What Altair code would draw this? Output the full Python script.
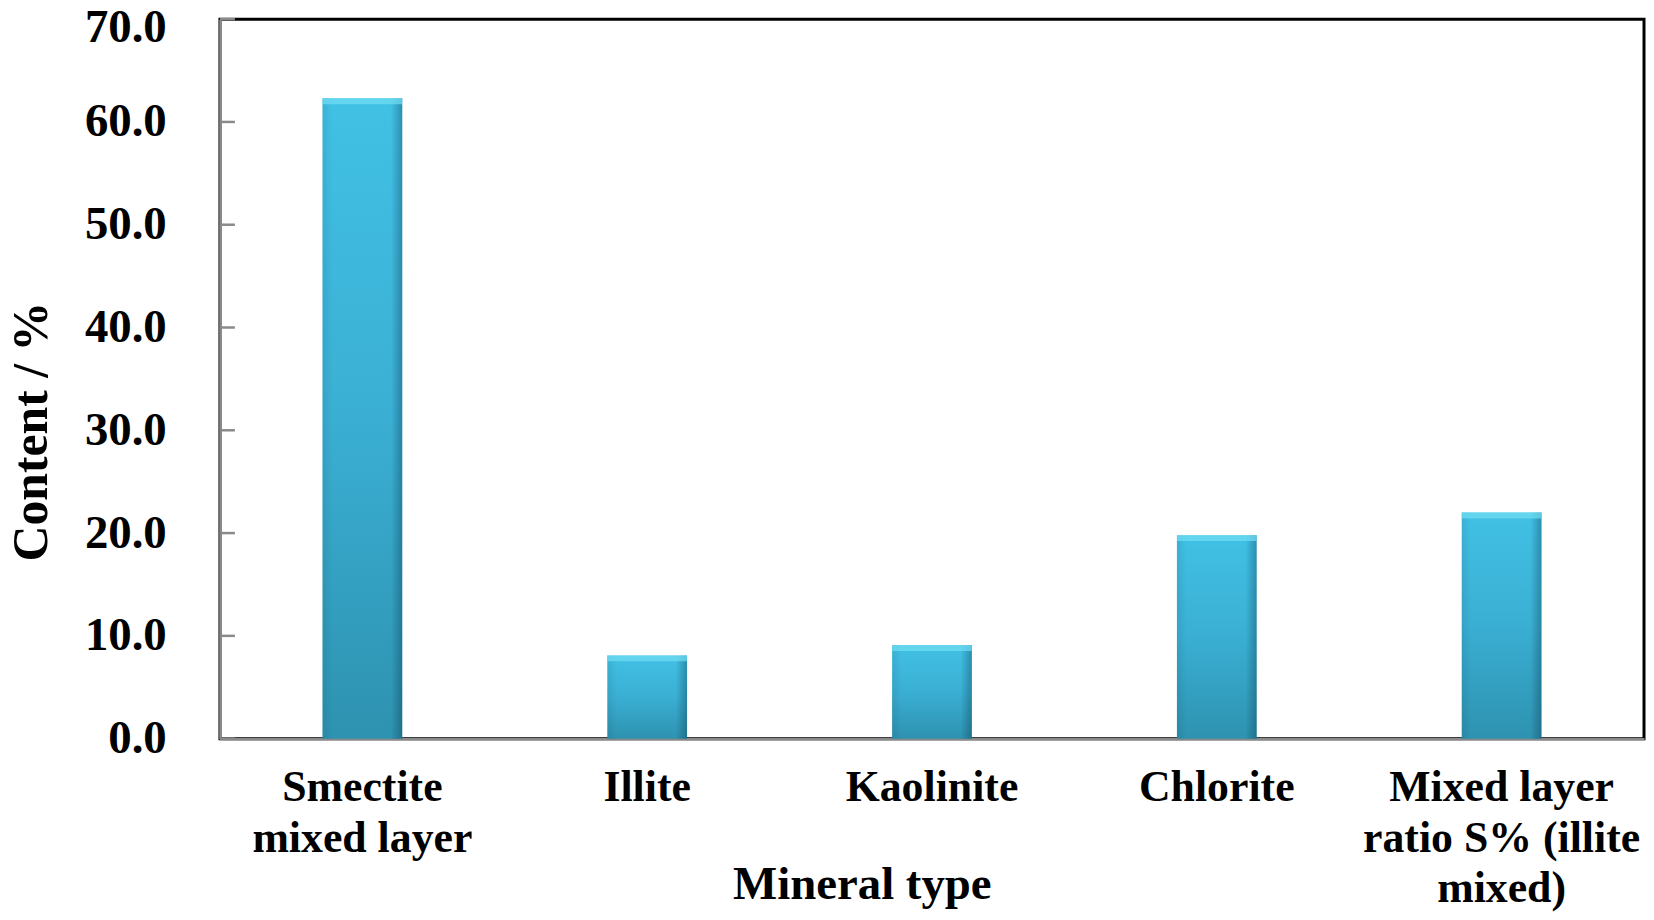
import altair as alt
import pandas as pd

# ---- data ----
minerals = ["Smectite mixed layer", "Illite", "Kaolinite", "Chlorite",
            "Mixed layer ratio S% (illite mixed)"]
label_lines = [["Smectite", "mixed layer"], ["Illite"], ["Kaolinite"], ["Chlorite"],
               ["Mixed layer", "ratio S% (illite", "mixed)"]]
content = [62.3, 8.1, 9.1, 19.8, 22.0]
y_ticks = [0, 10, 20, 30, 40, 50, 60, 70]

df = pd.DataFrame({"mineral": minerals, "content": content})
ticks_df = pd.DataFrame({"v": y_ticks})

# multi-line label expression
parts = []
for name, lines in zip(minerals, label_lines):
    arr = "[" + ",".join("'" + l + "'" for l in lines) + "]"
    parts.append(f"datum.label == '{name}' ? {arr}")
label_expr = " : ".join(parts) + " : datum.label"

FONT = "Liberation Serif"
GRAY = "#8a8a8a"

x_enc = alt.X(
    "mineral:N", sort=minerals,
    scale=alt.Scale(paddingInner=0.72, paddingOuter=0.36),
    axis=alt.Axis(
        title="Mineral type", labelAngle=0, labelExpr=label_expr,
        labelFont=FONT, labelFontWeight="bold", labelFontSize=44, labelColor="black",
        labelLineHeight=51, labelPadding=27, labelBaseline="top",
        ticks=False, tickSize=0, domainColor=GRAY, domainWidth=2.5,
        titleFont=FONT, titleFontWeight="bold", titleFontSize=47, titleColor="black",
        titleX=645, titleY=161, titleAlign="center", titleBaseline="alphabetic",
        labelLimit=0,
    ),
)
y_scale = alt.Scale(domain=[0, 70], nice=False)
y_enc = alt.Y(
    "content:Q", scale=y_scale,
    axis=alt.Axis(
        title="Content / %", values=y_ticks, format=".1f",
        labelFont=FONT, labelFontWeight="bold", labelFontSize=47, labelColor="black",
        labelPadding=54, ticks=False, tickSize=0, grid=False,
        labelOffset={"condition": {"test": "datum.value == 70", "value": 8}, "value": 0},
        domainColor=GRAY, domainWidth=2.5,
        titleFont=FONT, titleFontWeight="bold", titleFontSize=50, titleColor="black",
        titleX=-174, titleY=414, titleAlign="center", titleBaseline="alphabetic",
        titleAngle=270,
    ),
)

body = alt.Gradient(
    gradient="linear", x1=0, x2=0, y1=0, y2=1,
    stops=[alt.GradientStop(color="#41c1e5", offset=0),
           alt.GradientStop(color="#3aafd3", offset=0.5),
           alt.GradientStop(color="#2e92b0", offset=1)],
)
edges = alt.Gradient(
    gradient="linear", x1=0, x2=1, y1=0, y2=0,
    stops=[alt.GradientStop(color="rgba(0,40,60,0.10)", offset=0),
           alt.GradientStop(color="rgba(0,40,60,0.0)", offset=0.12),
           alt.GradientStop(color="rgba(0,40,60,0.0)", offset=0.86),
           alt.GradientStop(color="rgba(0,40,60,0.32)", offset=1)],
)

bars = alt.Chart(df).mark_bar(color=body).encode(x=x_enc, y=y_enc)
shade = alt.Chart(df).mark_bar(color=edges).encode(
    x=alt.X("mineral:N", sort=minerals), y=alt.Y("content:Q"))
top = alt.Chart(df).mark_tick(color="#74def4", thickness=6, size=80, yOffset=3).encode(
    x=alt.X("mineral:N", sort=minerals), y=alt.Y("content:Q"))
inner_ticks = alt.Chart(ticks_df).mark_rule(color=GRAY, strokeWidth=2.5).encode(
    y=alt.Y("v:Q", scale=y_scale), x=alt.value(0), x2=alt.value(15))

chart = alt.layer(bars, shade, top, inner_ticks).properties(
    width=1431, height=723,
    autosize=alt.AutoSizeParams(type="none"),
    padding={"left": 213, "top": 9, "right": 2, "bottom": 172},
    background="white",
).configure_view(stroke="black", strokeWidth=3)

chart.save("out.html", embed_options={"renderer": "svg", "actions": False})
